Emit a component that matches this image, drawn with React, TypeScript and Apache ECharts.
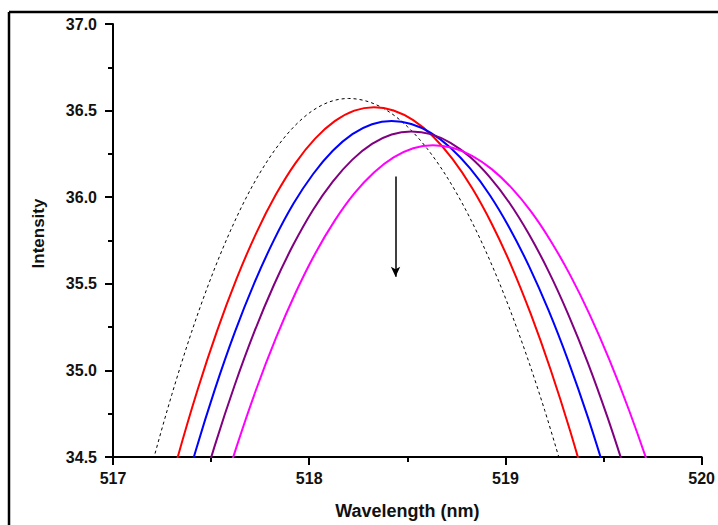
import React, { useEffect, useRef } from "react";
import * as echarts from "echarts";

// Wavelength samples (nm), with intensity readings
const dottedX = [
  517.1, 517.2, 517.3, 517.4, 517.5, 517.6, 517.7, 517.8, 517.9, 518.0, 518.1, 518.2,
  518.3, 518.4, 518.5, 518.6, 518.7, 518.8, 518.9, 519.0, 519.1, 519.2, 519.3,
];
const dottedY = [
  34.017, 34.46, 34.861, 35.22, 35.536, 35.81, 36.043, 36.232, 36.38, 36.486, 36.549, 36.57,
  36.552, 36.498, 36.408, 36.282, 36.12, 35.922, 35.688, 35.418, 35.112, 34.77, 34.392,
];

const redX = [
  517.23, 517.33, 517.43, 517.53, 517.63, 517.73, 517.83, 517.93, 518.03, 518.13, 518.23, 518.33,
  518.43, 518.53, 518.63, 518.73, 518.83, 518.93, 519.03, 519.13, 519.23, 519.33, 519.43,
];
const redY = [
  34.076, 34.5, 34.884, 35.227, 35.53, 35.793, 36.015, 36.197, 36.338, 36.439, 36.5, 36.52,
  36.501, 36.445, 36.352, 36.221, 36.053, 35.847, 35.604, 35.323, 35.005, 34.65, 34.257,
];

const blueX = [
  517.32, 517.42, 517.52, 517.62, 517.72, 517.82, 517.92, 518.02, 518.12, 518.22, 518.32, 518.42,
  518.52, 518.62, 518.72, 518.82, 518.92, 519.02, 519.12, 519.22, 519.32, 519.42, 519.52,
];
const blueY = [
  34.129, 34.53, 34.893, 35.218, 35.504, 35.752, 35.963, 36.134, 36.268, 36.364, 36.421, 36.44,
  36.423, 36.372, 36.286, 36.166, 36.013, 35.824, 35.602, 35.346, 35.055, 34.73, 34.371,
];

const purpleX = [
  517.42, 517.52, 517.62, 517.72, 517.82, 517.92, 518.02, 518.12, 518.22, 518.32, 518.42, 518.52,
  518.62, 518.72, 518.82, 518.92, 519.02, 519.12, 519.22, 519.32, 519.42, 519.52, 519.62,
];
const purpleY = [
  34.19, 34.57, 34.914, 35.222, 35.493, 35.728, 35.928, 36.09, 36.217, 36.308, 36.362, 36.38,
  36.364, 36.314, 36.232, 36.116, 35.968, 35.786, 35.572, 35.324, 35.044, 34.73, 34.384,
];

const magentaX = [
  517.53, 517.63, 517.73, 517.83, 517.93, 518.03, 518.13, 518.23, 518.33, 518.43, 518.53, 518.63,
  518.73, 518.83, 518.93, 519.03, 519.13, 519.23, 519.33, 519.43, 519.53, 519.63, 519.73, 519.83,
];
const magentaY = [
  34.195, 34.56, 34.891, 35.186, 35.447, 35.674, 35.865, 36.022, 36.143, 36.23, 36.283, 36.3,
  36.285, 36.239, 36.162, 36.055, 35.918, 35.749, 35.55, 35.321, 35.061, 34.77, 34.449, 34.097,
];

// arrow showing the decrease: [wavelength, intensity] start and end
const arrowStart = [518.44, 36.12];
const arrowEnd = [518.44, 35.54];

const toPairs = (xs: number[], ys: number[]) => xs.map((w, i) => [w, ys[i]]);

const FONT = "'Liberation Sans', Arial, sans-serif";

export default function App() {
  const ref = useRef<HTMLDivElement>(null);

  useEffect(() => {
    document.body.style.margin = "0";
    const chart = echarts.init(ref.current!, null, { renderer: "svg" });
    const lineSeries = (name: string, xs: number[], ys: number[], color: string) => ({
      name,
      type: "line",
      data: toPairs(xs, ys),
      smooth: 0.33,
      showSymbol: false,
      clip: true,
      lineStyle: { color, width: 2 },
      z: 3,
    });
    chart.setOption({
      animation: false,
      backgroundColor: "#fff",
      grid: { left: 113, right: 13, top: 24, bottom: 63 },
      xAxis: {
        type: "value",
        min: 517,
        max: 520,
        interval: 1,
        name: "Wavelength (nm)",
        nameLocation: "middle",
        nameGap: 45,
        nameTextStyle: { fontFamily: FONT, fontWeight: "bold", fontSize: 18, color: "#111" },
        axisLine: { show: true, onZero: false, lineStyle: { color: "#000", width: 2 } },
        axisTick: { show: true, length: 8, lineStyle: { color: "#000", width: 2 } },
        minorTick: { show: true, splitNumber: 2, length: 5, lineStyle: { color: "#000", width: 2 } },
        splitLine: { show: false },
        axisLabel: { margin: 13, fontFamily: FONT, fontWeight: "bold", fontSize: 16, color: "#111" },
      },
      yAxis: {
        type: "value",
        min: 34.5,
        max: 37.0,
        interval: 0.5,
        name: "Intensity",
        nameLocation: "middle",
        nameGap: 66,
        nameTextStyle: {
          fontFamily: FONT,
          fontWeight: "bold",
          fontSize: 17,
          color: "#111",
          padding: [0, 0, 0, 14],
        },
        axisLine: { show: true, onZero: false, lineStyle: { color: "#000", width: 2 } },
        axisTick: { show: true, length: 8, lineStyle: { color: "#000", width: 2 } },
        minorTick: { show: true, splitNumber: 2, length: 5, lineStyle: { color: "#000", width: 2 } },
        splitLine: { show: false },
        axisLabel: {
          margin: 16,
          fontFamily: FONT,
          fontWeight: "bold",
          fontSize: 16,
          color: "#111",
          formatter: (v: number) => v.toFixed(1),
        },
      },
      graphic: [
        { type: "line", shape: { x1: 9, y1: 12, x2: 718, y2: 12 }, style: { stroke: "#000", lineWidth: 2.5 } },
        { type: "line", shape: { x1: 9, y1: 12, x2: 9, y2: 525 }, style: { stroke: "#000", lineWidth: 2.5 } },
      ],
      series: [
        {
          name: "Reference",
          type: "line",
          data: toPairs(dottedX, dottedY),
          smooth: 0.33,
          showSymbol: false,
          clip: true,
          lineStyle: { color: "#000", width: 1, type: [3, 3] },
          z: 2,
          markLine: {
            silent: true,
            symbol: ["none", "arrow"],
            symbolSize: [7, 10],
            label: { show: false },
            lineStyle: { color: "#000", width: 1.5, type: "solid" },
            data: [[{ coord: arrowStart }, { coord: arrowEnd }]],
          },
        },
        lineSeries("Red", redX, redY, "#ff0000"),
        lineSeries("Blue", blueX, blueY, "#0000ff"),
        lineSeries("Purple", purpleX, purpleY, "#800080"),
        lineSeries("Magenta", magentaX, magentaY, "#ff00ff"),
      ],
    });
    return () => chart.dispose();
  }, []);

  return <div ref={ref} style={{ width: 718, height: 525 }} />;
}
